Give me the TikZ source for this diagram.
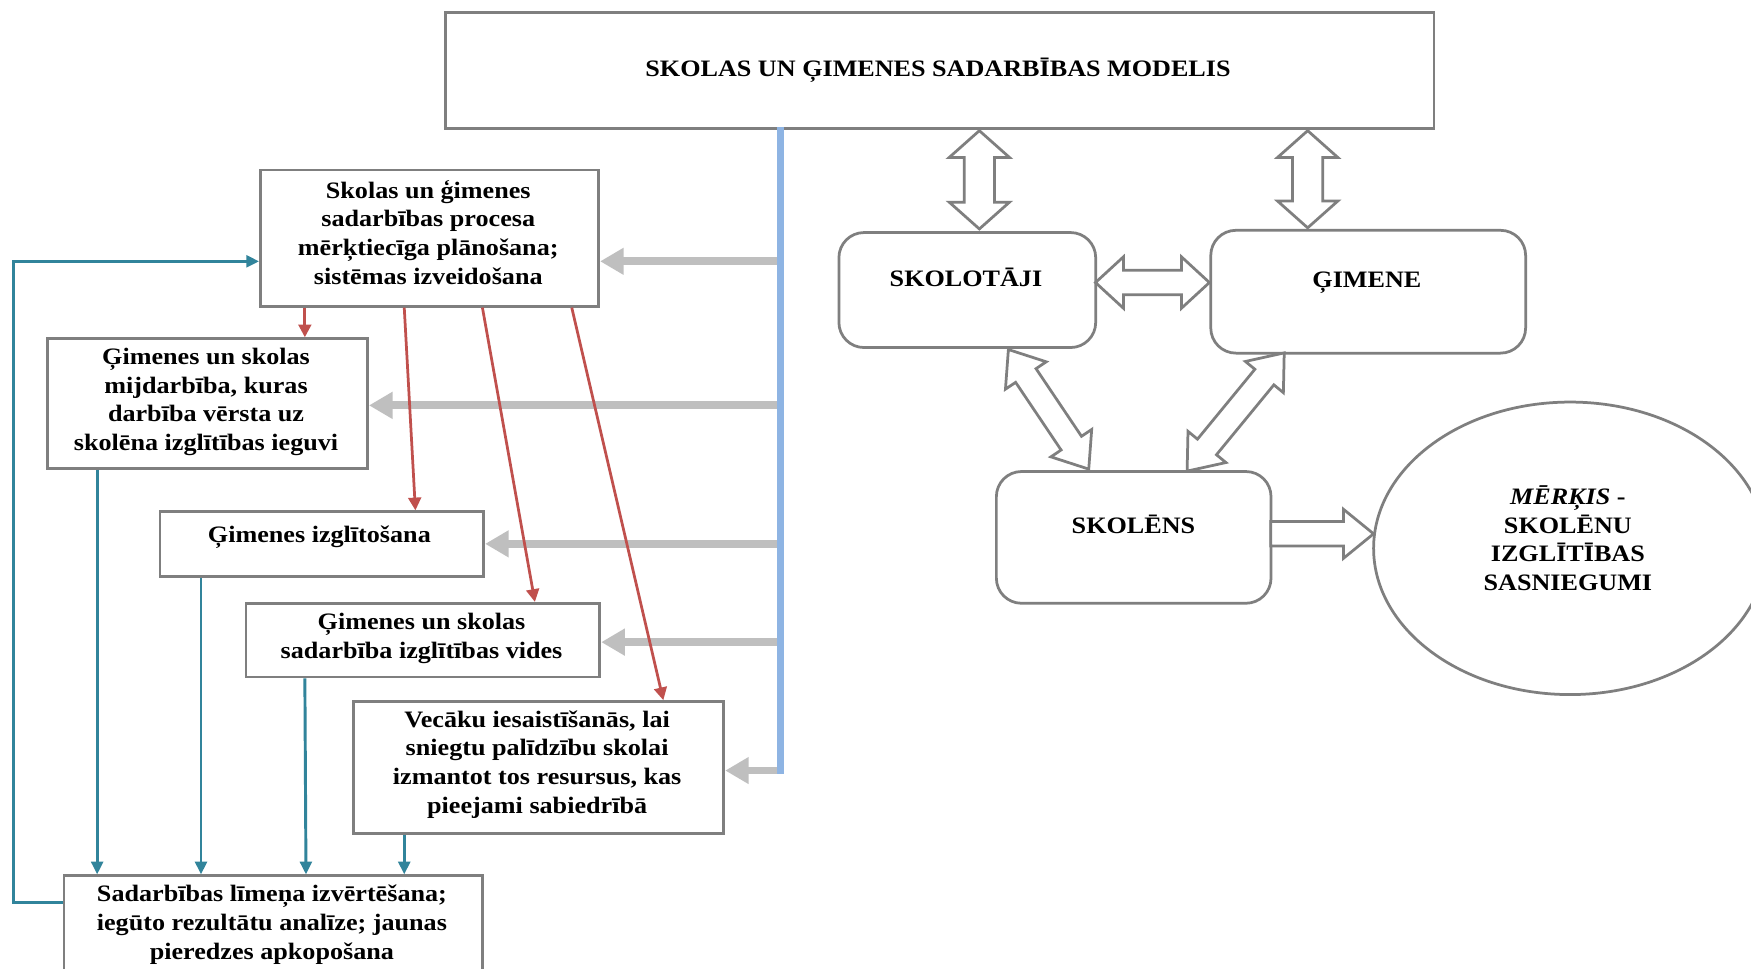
\documentclass[tikz,border=0pt]{standalone}
\usepackage{fontspec}
\setmainfont{Liberation Serif}[FakeStretch=1.11]
\usetikzlibrary{calc,arrows.meta,shapes.geometric}
\definecolor{boxgray}{HTML}{7F7F7F}
\definecolor{feedgray}{HTML}{BFBFBF}
\definecolor{spineblue}{HTML}{8EB4E3}
\definecolor{redc}{HTML}{C0504D}
\definecolor{tealc}{HTML}{31849B}
\newcommand\bodyfont{\fontsize{12}{14.6}\selectfont\bfseries}
\newcommand\dblarr[6]{%
  \begin{scope}[shift={#1}, rotate=#2]
    \draw[blockarrow] (0,0) -- (#4,#5) -- (#4,#6) -- ({#3-#4},#6) -- ({#3-#4},#5)
      -- (#3,0) -- ({#3-#4},{-#5}) -- ({#3-#4},{-#6}) -- (#4,{-#6}) -- (#4,{-#5}) -- cycle;
  \end{scope}}
\newcommand\sglarr[6]{%
  \begin{scope}[shift={#1}, rotate=#2]
    \draw[blockarrow] (0,{-#6}) -- ({#3-#4},{-#6}) -- ({#3-#4},{-#5}) -- (#3,0)
      -- ({#3-#4},#5) -- ({#3-#4},#6) -- (0,#6) -- cycle;
  \end{scope}}
\begin{document}
\begin{tikzpicture}[x=0.02cm, y=-0.02cm,
  box/.style={draw=boxgray, line width=1.4pt, fill=white, inner sep=0pt, anchor=north west},
  rbox/.style={box, rounded corners=0.45cm},
  txt/.style={align=center, inner sep=0pt, font=\bodyfont},
  feed/.style={draw=feedgray, line width=4pt, -{Triangle[length=12pt,width=13pt]}},
  spine/.style={draw=spineblue, line width=3.4pt},
  redarr/.style={draw=redc, line width=1.4pt, -{Triangle[length=6.5pt,width=6.5pt]}},
  tealarr/.style={draw=tealc, line width=1.5pt, -{Triangle[length=6.5pt,width=6pt]}},
  blockarrow/.style={draw=boxgray, line width=1.4pt, fill=white, line join=miter, miter limit=10},
]
\clip (0,0) rectangle (1568,867);
\fill[white] (0,0) rectangle (1568,867);

% title
\node[box, minimum width=17.7cm, minimum height=2.08cm] (title) at (398,10) {};
\node[txt] (titletxt) at (840,62.5) {SKOLAS UN ĢIMENES SADARBĪBAS MODELIS};

% left boxes
\node[box, minimum width=6.06cm, minimum height=2.44cm] (b1) at (232,151) {};
\node[txt] (t1) at (383.5,208) {Skolas un ģimenes\\sadarbības procesa\\mērķtiecīga plānošana;\\sistēmas izveidošana};
\node[box, minimum width=5.74cm, minimum height=2.32cm] (b2) at (41,302) {};
\node[txt] (t2) at (184.5,360) {Ģimenes un skolas\\mijdarbība, kuras\\darbība vērsta uz\\skolēna izglītības ieguvi};
\node[box, minimum width=5.8cm, minimum height=1.16cm] (b3) at (142,457) {};
\node[txt] (t3) at (286,481) {Ģimenes izglītošana};
\node[box, minimum width=6.34cm, minimum height=1.32cm] (b4) at (219,539) {};
\node[txt] (t4) at (377.5,571.5) {Ģimenes un skolas\\sadarbība izglītības vides};
\node[box, minimum width=6.64cm, minimum height=2.36cm] (b5) at (315,627) {};
\node[txt] (t5) at (481,684.5) {Vecāku iesaistīšanās, lai\\sniegtu palīdzību skolai\\izmantot tos resursus, kas\\pieejami sabiedrībā};
\node[box, minimum width=7.5cm, minimum height=2.2cm] (b6) at (56,783) {};
\node[txt] (t6) at (243.5,828) {Sadarbības līmeņa izvērtēšana;\\iegūto rezultātu analīze; jaunas\\pieredzes apkopošana};

% gray feed arrows from the spine
\coordinate (sp) at (699,114);
\coordinate (spb) at (699,693);
\coordinate (g1) at ($(b1.north east)+(0,83)$);
\coordinate (g2) at ($(b2.north east)+(0,61)$);
\coordinate (g3) at ($(b3.north east)+(0,30)$);
\coordinate (g4) at ($(b4.north east)+(0,36)$);
\coordinate (g5) at ($(b5.north east)+(0,63)$);
\foreach \g in {g1,g2,g3,g4,g5} { \draw[feed] (\g -| sp) -- (\g); }
\draw[spine] (sp) -- (spb);

% red arrows
\draw[redarr] ($(b1.south west)+(41,0)$) -- ($(b2.north west)+(232,0)$);
\draw[redarr] ($(b1.south west)+(130,0)$) -- ($(b3.north west)+(230,0)$);
\draw[redarr] ($(b1.south west)+(200,0)$) -- ($(b4.north west)+(260,0)$);
\draw[redarr] ($(b1.south west)+(280,0)$) -- ($(b5.north west)+(279,0)$);

% teal arrows
\draw[tealarr] ($(b2.south west)+(46,0)$) -- ($(b6.north west)+(31,0)$);
\draw[tealarr] ($(b3.south west)+(38,0)$) -- ($(b6.north west)+(124,0)$);
\draw[tealarr] ($(b4.south west)+(54,0)$) -- ($(b6.north west)+(218,0)$);
\draw[tealarr] ($(b5.south west)+(47,0)$) -- ($(b6.north west)+(306,0)$);
\draw[tealarr] ($(b6.north west)+(0,25)$) -- ++(-44,0) |- ($(b1.north west)+(0,83)$);

% right side
\node[rbox, minimum width=4.6cm, minimum height=2.06cm] (sk) at (750,207) {};
\node[txt] (sktxt) at (865,248) {SKOLOTĀJI};
\node[rbox, minimum width=5.64cm, minimum height=2.2cm] (gm) at (1083,205) {};
\node[txt] (gmtxt) at (1224,253.5) {ĢIMENE};
\node[rbox, minimum width=4.92cm, minimum height=2.36cm] (sl) at (891,421) {};
\node[txt] (sltxt) at (1015,470) {SKOLĒNS};
\node[draw=boxgray, line width=1.4pt, ellipse, minimum width=7.04cm, minimum height=5.24cm, inner sep=0pt] (el) at (1406,491) {};
\node[txt] (eltxt) at (1404,482) {\textit{MĒRĶIS} -\\SKOLĒNU\\IZGLĪTĪBAS\\SASNIEGUMI};

% block arrows
\dblarr{(877,117)}{-90}{88}{24}{27}{13.5}
\dblarr{(1171,117)}{-90}{87}{24}{27}{13.5}
\dblarr{(981,253)}{0}{102}{25}{23}{11}
\dblarr{(903,313)}{-56.1}{129}{28}{22}{11}
\dblarr{(1150,316)}{-129.4}{137}{28}{22}{11}
\sglarr{(1138,478)}{0}{92}{27}{22}{11}
\end{tikzpicture}
\end{document}
